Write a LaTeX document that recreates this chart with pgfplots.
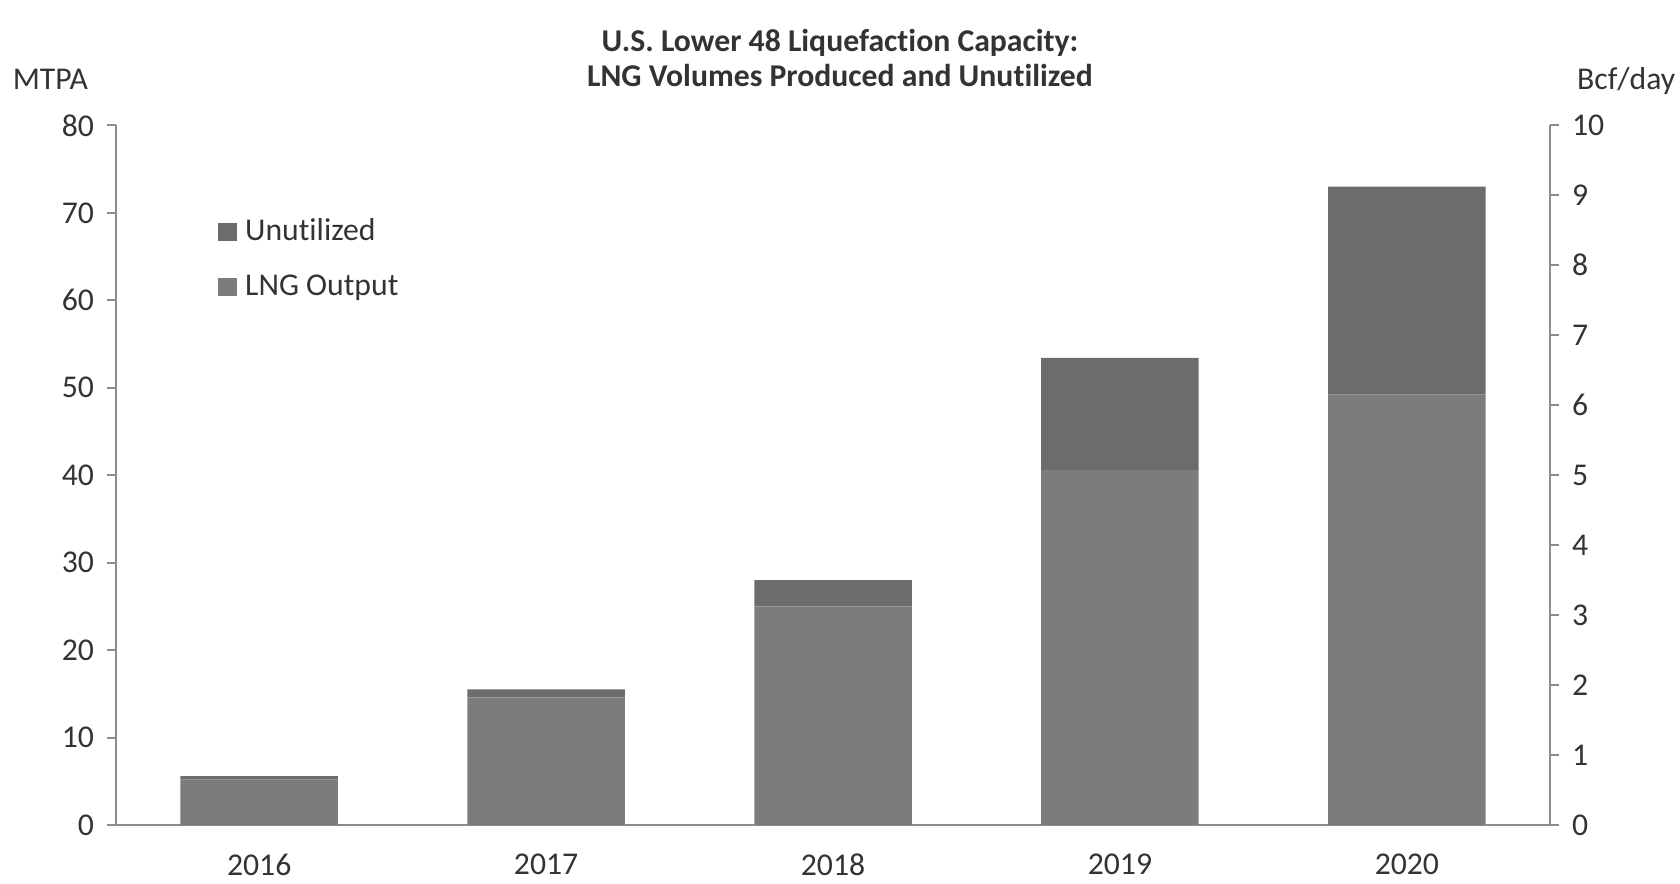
\documentclass[border=0pt]{standalone}
\usepackage{pgfplots}
\pgfplotsset{compat=1.18}
\usepackage{fontspec}
\setmainfont[Ligatures=NoCommon]{Carlito}
\definecolor{txt}{HTML}{333333}
\definecolor{axl}{HTML}{8C8C8C}
\definecolor{outc}{HTML}{7C7C7C}
\definecolor{unuc}{HTML}{6C6C6C}
\begin{document}
\begin{tikzpicture}
\fontsize{14.8pt}{17pt}\selectfont
\useasboundingbox (0,0) rectangle (784pt,412.5pt);
\begin{axis}[
  at={(54pt,27.5pt)}, anchor=south west,
  scale only axis, width=669.5pt, height=326.5pt,
  ybar stacked, bar width=73.5pt,
  xmin=-0.5, xmax=4.5, ymin=0, ymax=80,
  ytick={0,10,...,80},
  xtick={0,1,2,3,4}, xticklabels={2016,2017,2018,2019,2020},
  axis x line*=bottom, axis y line*=left,
  x axis line style={draw=axl, line width=0.9pt, -},
  y axis line style={draw=axl, line width=0.9pt, -},
  major x tick style={draw=none},
  major y tick style={draw=axl, line width=0.9pt},
  tick align=outside, major tick length=4pt,
  /pgf/number format/assume math mode=true,
  tick label style={font=\fontsize{14.8pt}{17pt}\selectfont, text=txt},
  xticklabel style={yshift=-4.5pt},
  yticklabel style={xshift=-1pt},
  legend style={at={(0.0668,0.873)}, anchor=north west, draw=none, fill=none,
    font=\fontsize{14.8pt}{17pt}\selectfont, text=txt,
    row sep=13.5pt, nodes={inner xsep=4pt, inner ysep=0pt}},
  legend cell align=left,
  reverse legend,
  legend image code/.code={\fill[#1] (0pt,-4.25pt) rectangle (8.5pt,4.25pt);},
]
\addplot[fill=outc, draw=none] coordinates {(0,5.2) (1,14.6) (2,25.0) (3,40.6) (4,49.2)};
\addlegendentry{LNG Output}
\addplot[fill=unuc, draw=none] coordinates {(0,0.4) (1,0.9) (2,3.0) (3,12.8) (4,23.8)};
\addlegendentry{Unutilized}
\end{axis}
\begin{axis}[
  at={(54pt,27.5pt)}, anchor=south west,
  scale only axis, width=669.5pt, height=326.5pt,
  xmin=-0.5, xmax=4.5, ymin=0, ymax=10,
  ytick={0,1,...,10},
  axis y line*=right, axis x line=none,
  y axis line style={draw=axl, line width=0.9pt, -},
  major y tick style={draw=axl, line width=0.9pt},
  tick align=outside, major tick length=4pt,
  /pgf/number format/assume math mode=true,
  tick label style={font=\fontsize{14.8pt}{17pt}\selectfont, text=txt},
  yticklabel style={xshift=1pt},
]
\addplot[draw=none] coordinates {(0,0)};
\end{axis}
\node[text=txt, font=\bfseries\fontsize{14.8pt}{17pt}\selectfont, anchor=base] at (392pt,388.5pt) {U.S. Lower 48 Liquefaction Capacity:};
\node[text=txt, font=\bfseries\fontsize{14.8pt}{17pt}\selectfont, anchor=base] at (392pt,372pt) {LNG Volumes Produced and Unutilized};
\node[text=txt, anchor=base] at (23.5pt,370.5pt) {MTPA};
\node[text=txt, anchor=base east, inner xsep=0pt] at (782pt,370.5pt) {Bcf/day};
\end{tikzpicture}
\end{document}
